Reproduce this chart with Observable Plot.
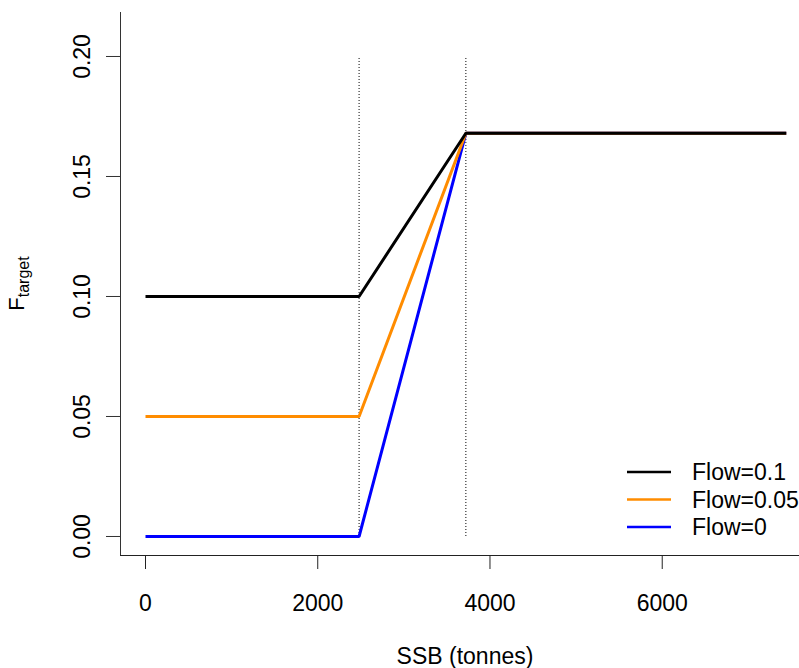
<!DOCTYPE html>
<html><head><meta charset="utf-8">
<script src="https://cdn.jsdelivr.net/npm/d3@7"></script>
<script src="https://cdn.jsdelivr.net/npm/@observablehq/plot@0.6"></script>
<style>body{margin:0;background:#fff;} svg{display:block;}</style>
</head><body><div id="chart"></div>
<script>
// ---- data ----
const ssb = [0, 2480, 3720, 7440];
const fFlow01 = [0.1, 0.1, 0.168, 0.168];
const fFlow005 = [0.05, 0.05, 0.168, 0.168];
const fFlow0 = [0, 0, 0.168, 0.168];
const seriesNames = ["Flow=0.1", "Flow=0.05", "Flow=0"];
const seriesColors = ["#000000", "#FF8C00", "#0000FF"];
const refLines = [2480, 3720];
const refRange = [0, 0.2];
const xTicks = [0, 2000, 4000, 6000];
const yTicks = [0, 0.05, 0.10, 0.15, 0.20];

const seriesValues = [fFlow01, fFlow005, fFlow0];
const rows = [];
// draw blue first, black last (black on top at the plateau)
for (let i = seriesNames.length - 1; i >= 0; i--) {
  ssb.forEach((x, j) => rows.push({series: seriesNames[i], ssb: x, f: seriesValues[i][j]}));
}

const font = "'Liberation Sans', Arial, Helvetica, sans-serif";
const W = 799, H = 668;
const mL = 120, mR = 0, mT = 12, mB = 113;

const chart = Plot.plot({
  width: W, height: H,
  marginLeft: mL, marginRight: mR, marginTop: mT, marginBottom: mB,
  style: {fontFamily: font, fontSize: "23px", background: "white", color: "black"},
  x: {domain: [-290.3, 7594], ticks: xTicks},
  y: {domain: [-0.00792, 0.21833], ticks: yTicks},
  color: {domain: seriesNames, range: seriesColors},
  marks: [
    Plot.frame({anchor: "left", stroke: "#333"}),
    Plot.frame({anchor: "bottom", stroke: "#222"}),
    Plot.axisX(xTicks, {tickSize: 14, tickPadding: 25, fontSize: 23, label: null, stroke: "#222",
      tickFormat: d => String(d)}),
    Plot.axisY(yTicks, {tickSize: 14, fill: "none", label: null, stroke: "#333"}),
    Plot.text(yTicks, {y: d => d, text: d => d.toFixed(2), frameAnchor: "left", dx: -38,
      rotate: -90, textAnchor: "middle", lineAnchor: "middle", fontSize: 23, fill: "black"}),
    Plot.ruleX(refLines, {x: d => d, y1: refRange[0], y2: refRange[1], stroke: "#000",
      strokeWidth: 1, strokeDasharray: "1,2"}),
    Plot.line(rows, {x: "ssb", y: "f", z: "series", stroke: "series", strokeWidth: 3,
      strokeLinejoin: "miter", strokeLinecap: "butt"})
  ]
});

const svg = d3.select(chart);
// x-axis title
svg.append("text")
  .attr("x", 465).attr("y", 664)
  .attr("text-anchor", "middle")
  .attr("font-family", font).attr("font-size", 23).attr("fill", "black")
  .text("SSB (tonnes)");
// y-axis title with subscript
const yt = svg.append("text")
  .attr("transform", "translate(24,283.5) rotate(-90)")
  .attr("text-anchor", "middle")
  .attr("font-family", font).attr("fill", "black");
yt.append("tspan").attr("font-size", 22).text("F");
yt.append("tspan").attr("font-size", 16).attr("dy", 5).text("target");

// legend
const lg = svg.append("g");
const legY0 = 472, legStep = 27.5;
seriesNames.forEach((name, i) => {
  const y = legY0 + i * legStep;
  lg.append("line").attr("x1", 627).attr("x2", 671).attr("y1", y).attr("y2", y)
    .attr("stroke", seriesColors[i]).attr("stroke-width", 2.5);
  lg.append("text").attr("x", 692).attr("y", y).attr("dy", "0.35em")
    .attr("text-anchor", "start")
    .attr("font-family", font).attr("font-size", 23).attr("fill", "black").text(name);
});

document.getElementById("chart").appendChild(chart);
</script>
</body></html>
